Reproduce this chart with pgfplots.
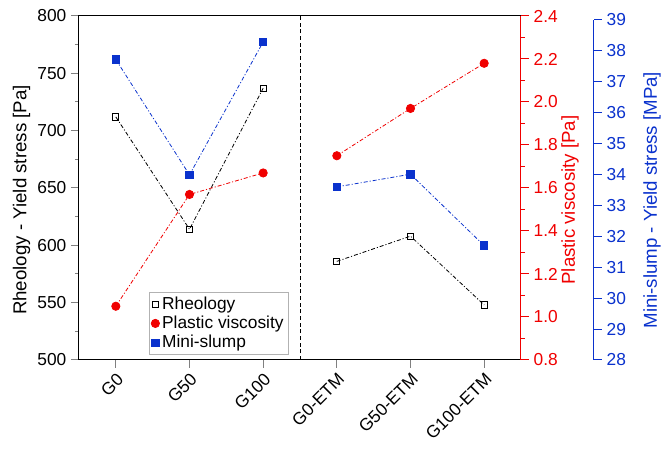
\documentclass[border=0pt]{standalone}
\usepackage{fontspec}
\setmainfont{Liberation Sans}
\usepackage{pgfplots}
\pgfplotsset{compat=1.18}
\definecolor{pvred}{RGB}{240,0,0}
\definecolor{msblue}{RGB}{10,50,205}

\tikzset{labelfont/.style={font=\fontsize{14}{16.8}\selectfont}}
\pgfplotsset{
  every axis/.append style={
    scale only axis,
    tick align=outside,
    major tick length=6pt, minor tick length=3pt,
    font=\fontsize{13}{15.6}\selectfont,
    /pgf/number format/assume math mode=true,
    tick style={line width=0.75pt},
    axis line style={line width=0.75pt},
    unbounded coords=jump,
  },
  series/.style={line width=0.6pt, dash pattern=on 3pt off 1.5pt on 0.8pt off 1.5pt},
}

\begin{document}
\begin{tikzpicture}
% left axis: rheology yield stress
\begin{axis}[
  width=331.5pt, height=258pt,
  xmin=-0.5, xmax=5.5, ymin=500, ymax=800,
  xtick={0,1,2,3,4,5},
  xticklabels={G0,G50,G100,G0-ETM,G50-ETM,G100-ETM},
  xticklabel style={rotate=45, anchor=north east, inner sep=2pt},
  ytick={500,550,600,650,700,750,800}, minor y tick num=1,
  xtick pos=left, ytick pos=left,
  ylabel={Rheology - Yield stress [Pa]},
  every axis y label/.style={at={(axis description cs:0,0.465)}, rotate=90,
    anchor=center, yshift=43pt, labelfont},
]
\addplot[black, series, mark=square, mark size=2.3pt, mark options={solid, fill=white}]
  coordinates {(0,712) (1,614) (2,737) (2.5,nan) (3,586) (4,608) (5,548)};
\addplot[black, line width=0.6pt, dash pattern=on 3pt off 2pt, forget plot]
  coordinates {(2.5,500) (2.5,800)};
\end{axis}

% outer right axis: mini-slump
\begin{axis}[
  width=386.25pt, height=255pt,
  xmin=-0.5, xmax=6.491, ymin=28, ymax=39,
  axis x line=none, axis y line*=right,
  y axis line style={msblue, -},
  ytick={28,29,30,31,32,33,34,35,36,37,38,39},
  ytick style={msblue}, yticklabel style={msblue},
  ylabel={Mini-slump - Yield stress [MPa]},
  every axis y label/.style={at={(axis description cs:1,0.47)}, rotate=90,
    anchor=center, yshift=-43.5pt, msblue, labelfont},
]
\addplot[msblue, series, mark=square*, mark size=2.8pt, mark options={solid}]
  coordinates {(0,37.72) (1,33.99) (2,38.29) (2.5,nan) (3,33.6) (4,34.01) (5,31.7)};
\end{axis}

% inner right axis: plastic viscosity
\begin{axis}[
  width=331.5pt, height=258pt,
  xmin=-0.5, xmax=5.5, ymin=0.8, ymax=2.4,
  axis x line=none, axis y line*=right,
  y axis line style={pvred, -},
  ytick={0.8,1.0,1.2,1.4,1.6,1.8,2.0,2.2,2.4}, minor y tick num=1,
  ytick style={pvred},
  yticklabel style={pvred, /pgf/number format/.cd, fixed, fixed zerofill, precision=1},
  ylabel={Plastic viscosity [Pa]},
  every axis y label/.style={at={(axis description cs:1,0.465)}, rotate=90,
    anchor=center, yshift=-36.75pt, pvred, labelfont},
  legend style={at={(axis description cs:0.158,0.0145)}, anchor=south west,
    draw=gray!60, line width=0.6pt, inner sep=1.5pt, row sep=-0.5pt,
    font=\fontsize{13}{15.6}\selectfont},
  legend cell align=left,
  legend image code/.code={\draw[#1] plot[only marks] coordinates {(3pt,0pt)};},
]
\addlegendimage{black, mark=square, mark size=2.3pt, mark options={solid, fill=white}}
\addlegendentry{Rheology}
\addplot[pvred, series, mark=*, mark size=3.1pt, mark options={solid}]
  coordinates {(0,1.05) (1,1.57) (2,1.67) (2.5,nan) (3,1.75) (4,1.97) (5,2.18)};
\addlegendentry{Plastic viscosity}
\addlegendimage{msblue, mark=square*, mark size=2.8pt, mark options={solid}}
\addlegendentry{Mini-slump}
\end{axis}

\pgfresetboundingbox
\path (-59.25pt,-66.75pt) rectangle (436.5pt,270pt);
\end{tikzpicture}
\end{document}
